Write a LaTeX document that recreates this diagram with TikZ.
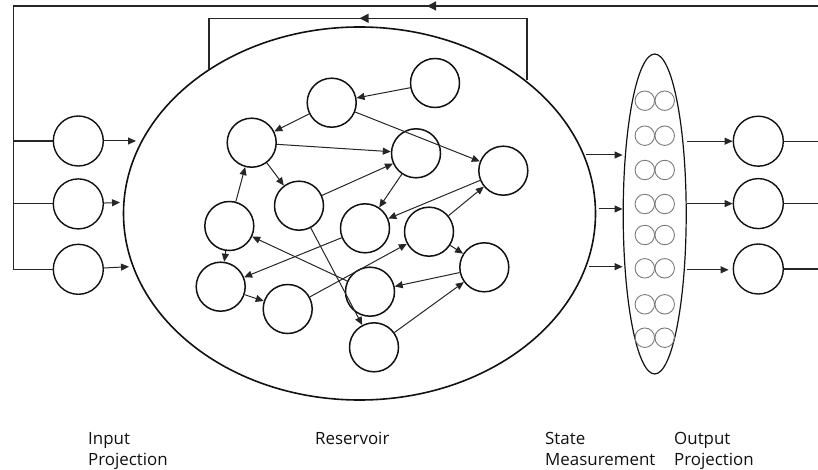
\documentclass[tikz,border=0pt]{standalone}
\usepackage{fontspec}
\setmainfont{Open Sans}
\usepackage{xcolor}
\usepackage{tikz}
\usetikzlibrary{shapes.geometric, arrows.meta, positioning, calc}
\definecolor{ink}{HTML}{111111}
\definecolor{wiregray}{HTML}{262626}
\definecolor{cellgray}{HTML}{7A7A7A}

\begin{document}
\begin{tikzpicture}[x=1pt, y=-1pt,
  unit/.style={circle, draw=ink, line width=1.5pt, minimum size=49pt, inner sep=0pt},
  io/.style={circle, draw=ink, line width=1.4pt, minimum size=50pt, inner sep=0pt},
  pool/.style={ellipse, draw=ink, line width=1.6pt, inner sep=0pt},
  cell/.style={circle, draw=cellgray, line width=0.9pt, minimum size=19.5pt, inner sep=0pt},
  arr/.style={-{Triangle[length=8pt, width=7pt]}, line width=1pt, color=wiregray},
  bigarr/.style={-{Triangle[length=9pt, width=9pt]}, line width=1.2pt, color=wiregray},
  wire/.style={line width=1.2pt, color=wiregray},
  lbl/.style={font=\fontsize{16.9}{21}\selectfont, align=left, anchor=north west, inner sep=0pt, text=ink}]

  \useasboundingbox (0,0) rectangle (818,470);

  % reservoir and readout
  \node[pool, minimum width=472pt, minimum height=373pt] (res) at (359.5,213.5) {};
  \node[pool, line width=1.2pt, minimum width=63pt, minimum height=320pt] (st) at (654.7,214) {};

  % input and output projection
  \node[io] (in1) at (78.3,141) {};
  \node[io, below=11.5pt of in1] (in2) {};
  \node[io, below=14pt of in2] (in3) {};
  \node[io] (out1) at (758.3,141.2) {};
  \node[io, below=11pt of out1] (out2) {};
  \node[io, below=14pt of out2] (out3) {};

  % reservoir units
  \node[unit] (A) at (435,83) {};
  \node[unit] (B) at (331.7,102.7) {};
  \node[unit] (C) at (251.7,142.7) {};
  \node[unit] (D) at (416,153.3) {};
  \node[unit] (E) at (503.3,170.7) {};
  \node[unit] (F) at (299,205.7) {};
  \node[unit] (G) at (229.3,226) {};
  \node[unit] (H) at (365,228.3) {};
  \node[unit] (I) at (429,231.7) {};
  \node[unit] (J) at (220.7,286.7) {};
  \node[unit] (K) at (484.3,267.3) {};
  \node[unit] (L) at (287.7,309) {};
  \node[unit] (M) at (370,291.7) {};
  \node[unit] (N) at (374,347.3) {};

  \foreach \a/\b in {A/B, B/C, B/E, C/D, C/F, F/D, G/C, G/J, D/H, E/H,
                     I/E, I/K, H/J, J/L, L/I, M/G, F/N, K/M, N/K}
    \draw[arr] (\a) -- (\b);

  % state cells
  \foreach \y [count=\i] in {100.7,135.7,170,204,235,268.3,304.3,337.7} {
    \node[cell] (cl\i) at (644.8,\y) {};
    \node[cell] (cr\i) at (664.7,\y) {};
  }

  % arrow ends on the ellipses
  \coordinate (ri1) at (136,141);
  \coordinate (ri2) at (120,202.5);
  \coordinate (ri3) at (129,266.7);
  \coordinate (rs1) at (586,155);
  \coordinate (rs2) at (599,209);
  \coordinate (rs3) at (589,266.7);

  \foreach \i in {1,2,3} {
    \draw[arr] (in\i) -- (ri\i);
    \draw[arr] (rs\i) -- (rs\i -| st.west);
  }
  \draw[arr] (out1 -| st.east) -- (out1);
  \draw[arr] (out2 -| st.east) -- (out2);
  \draw[arr] ($(out3 -| st.east)+(0,0.8)$) -- ($(out3.west)+(-4,0.8)$);

  % feedback loops
  \coordinate (tr) at (818,6);
  \coordinate (tl) at (13.3,6);
  \coordinate (tmid) at (427,6);
  \draw[wire] (tr) -- (tl) -- (tl |- in3);
  \draw[bigarr] (tr) -- (tmid);
  \foreach \i in {1,2,3} {
    \draw[wire] (tl |- in\i) -- (in\i);
    \draw[wire] (out\i) -- (out\i -| tr);
  }

  \coordinate (fbR) at (527,80);
  \coordinate (fbL) at (209,69);
  \coordinate (ltop) at (359.5,18.3);
  \draw[wire] (fbR) |- (ltop) -| (fbL);
  \draw[bigarr] (fbR |- ltop) -- (ltop);

  % labels
  \node[lbl] (lin) at (88,432) {Input\\Projection};
  \node[lbl] (lres) at (315,432) {Reservoir};
  \node[lbl] (lst) at (545,432) {State\\Measurement};
  \node[lbl] (lout) at (674,432) {Output\\Projection};
\end{tikzpicture}
\end{document}
